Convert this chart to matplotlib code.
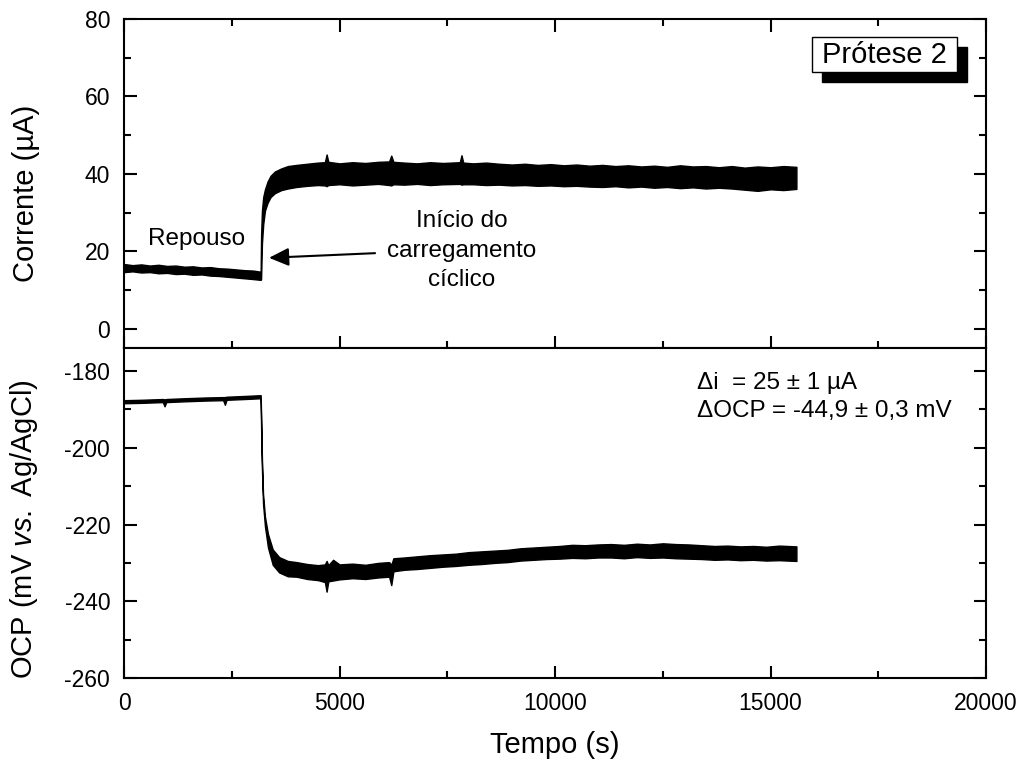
import numpy as np
import matplotlib
matplotlib.use('Agg')
from matplotlib import pyplot as plt
from matplotlib.patches import Rectangle
from matplotlib.ticker import MultipleLocator

plt.rcParams['font.family'] = ['Liberation Sans', 'DejaVu Sans']
plt.rcParams['mathtext.fontset'] = 'custom'
plt.rcParams['mathtext.rm'] = 'Liberation Sans'
plt.rcParams['mathtext.it'] = 'Liberation Sans:italic'
plt.rcParams['axes.unicode_minus'] = False

# current (uA): upper / lower edge of the noisy band
rest_t = [0, 200, 400, 600, 800, 1000, 1200, 1400, 1600, 1800, 2000, 2200, 2400, 2600, 2800, 3000, 3170]
rest_hi = [16.7, 16.4, 16.6, 16.3, 16.5, 16.2, 16.3, 16.0, 16.1, 15.8, 15.9, 15.6, 15.5, 15.3, 15.1, 15.0, 14.7]
rest_lo = [14.6, 14.8, 14.5, 14.6, 14.3, 14.4, 14.1, 14.2, 13.9, 14.0, 13.7, 13.6, 13.4, 13.2, 13.0, 12.8, 12.6]

rise_t = [3180, 3200, 3230, 3270, 3330, 3400, 3500, 3650, 3800]
rise_hi = [24.0, 30.5, 34.0, 36.0, 38.0, 39.5, 40.6, 41.4, 42.0]
rise_lo = [12.8, 22.0, 27.0, 30.5, 32.5, 34.0, 35.0, 35.8, 36.2]

load_t = [4000, 4250, 4500, 4660, 4700, 4740, 5000, 5300, 5600, 5900,
          6150, 6200, 6250, 6500, 6800, 7100, 7400, 7790, 7830, 7870,
          8100, 8400, 8700, 9000, 9300, 9600, 9900, 10200, 10500, 10800,
          11100, 11400, 11700, 12000, 12300, 12600, 12900, 13200, 13500, 13800,
          14100, 14400, 14700, 15000, 15300, 15600]
load_hi = [42.3, 42.6, 42.9, 43.0, 45.0, 43.1, 42.7, 43.0, 42.8, 43.1,
           43.2, 44.7, 43.1, 42.9, 42.7, 43.0, 42.8, 43.0, 44.8, 42.9,
           42.7, 42.9, 42.6, 42.4, 42.6, 42.3, 42.5, 42.2, 42.4, 42.1,
           42.3, 42.0, 42.2, 41.9, 42.1, 41.8, 42.2, 41.9, 42.0, 41.7,
           42.0, 41.6, 41.9, 41.7, 42.0, 41.8]
load_lo = [36.6, 36.9, 37.1, 37.0, 36.8, 37.1, 37.3, 37.0, 37.2, 37.4,
           37.1, 37.0, 37.3, 37.2, 37.4, 37.1, 37.3, 37.4, 37.2, 37.3,
           37.3, 37.1, 37.2, 37.0, 37.1, 36.9, 37.0, 36.8, 36.9, 36.7,
           36.6, 36.8, 36.5, 36.7, 36.4, 36.6, 36.3, 36.5, 36.2, 36.4,
           36.2, 35.9, 35.6, 36.0, 35.8, 36.1]

# OCP (mV vs Ag/AgCl)
ocp_rest_t = [0, 400, 900, 940, 980, 1400, 1900, 2300, 2340, 2380, 2800, 3170]
ocp_rest_hi = [-187.6, -187.5, -187.3, -187.4, -187.3, -187.1, -186.9, -186.8, -186.8, -186.7, -186.5, -186.3]
ocp_rest_lo = [-188.4, -188.3, -188.1, -189.2, -188.1, -187.9, -187.7, -187.6, -188.8, -187.5, -187.3, -187.1]

ocp_drop_t = [3185, 3200, 3225, 3270, 3340, 3450, 3600, 3800]
ocp_drop_hi = [-194.0, -203.0, -212.0, -218.0, -222.5, -226.5, -228.5, -229.5]
ocp_drop_lo = [-198.0, -205.5, -214.5, -220.5, -226.0, -230.5, -232.5, -233.5]

ocp_load_t = [4000, 4250, 4500, 4660, 4700, 4740, 4850, 5000, 5300, 5600,
              5900, 6150, 6200, 6250, 6500, 6800, 7100, 7400, 7700, 8000,
              8300, 8600, 8900, 9200, 9500, 9800, 10100, 10400, 10700, 11000,
              11300, 11600, 11900, 12200, 12500, 12800, 13100, 13400, 13700, 14000,
              14300, 14600, 14900, 15200, 15600]
ocp_load_hi = [-229.8, -230.3, -230.6, -230.4, -229.5, -230.6, -229.2, -230.4, -230.2, -230.5,
               -230.0, -229.8, -230.5, -228.8, -228.6, -228.3, -228.0, -227.8, -227.6, -227.2,
               -227.0, -226.8, -226.6, -226.2, -226.0, -225.8, -225.6, -225.3, -225.4, -225.2,
               -225.1, -225.3, -225.0, -225.2, -224.9, -225.1, -225.2, -225.4, -225.6, -225.5,
               -225.7, -225.6, -225.8, -225.5, -225.7]
ocp_load_lo = [-233.6, -234.2, -234.5, -235.0, -237.5, -234.8, -234.6, -234.3, -234.0, -234.2,
               -233.8, -233.6, -235.8, -232.2, -231.8, -231.6, -231.3, -231.0, -230.8, -230.5,
               -230.3, -230.0, -229.8, -229.4, -229.2, -229.0, -228.9, -228.7, -228.8, -228.6,
               -228.6, -228.8, -228.5, -228.7, -228.6, -228.8, -228.9, -229.0, -229.2, -229.1,
               -229.3, -229.2, -229.4, -229.3, -229.5]

cur_t = np.array(rest_t + rise_t + load_t)
cur_hi = np.array(rest_hi + rise_hi + load_hi)
cur_lo = np.array(rest_lo + rise_lo + load_lo)
ocp_t = np.array(ocp_rest_t + ocp_drop_t + ocp_load_t)
ocp_hi = np.array(ocp_rest_hi + ocp_drop_hi + ocp_load_hi)
ocp_lo = np.array(ocp_rest_lo + ocp_drop_lo + ocp_load_lo)

fig = plt.figure(figsize=(10.25, 7.66), dpi=100)
ax1 = fig.add_axes([0.121, 0.5457, 0.841, 0.4295])
ax2 = fig.add_axes([0.121, 0.1149, 0.841, 0.4308])

ax1.fill_between(cur_t, cur_lo, cur_hi, color='k', lw=1.0)
ax2.fill_between(ocp_t, ocp_lo, ocp_hi, color='k', lw=1.0)

for ax in (ax1, ax2):
    ax.set_xlim(0, 20000)
    ax.xaxis.set_major_locator(MultipleLocator(5000))
    ax.xaxis.set_minor_locator(MultipleLocator(2500))
    ax.yaxis.set_major_locator(MultipleLocator(20))
    ax.yaxis.set_minor_locator(MultipleLocator(10))
    ax.tick_params(which='both', direction='in', width=1.5, labelsize=16.5, pad=10, right=True)
    ax.tick_params(which='major', length=9)
    ax.tick_params(which='minor', length=5)
    for s in ax.spines.values():
        s.set_linewidth(1.5)

ax1.set_ylim(-5, 80)
ax1.tick_params(which='both', top=True, labelbottom=False)
ax2.set_ylim(-260, -174)
ax2.tick_params(which='both', top=False)

ax1.set_ylabel('Corrente (µA)', fontsize=21)
ax1.yaxis.set_label_coords(-0.0975, 0.47)
ax2.set_ylabel('OCP (mV $\\mathit{vs.}$ Ag/AgCl)', fontsize=21)
ax2.yaxis.set_label_coords(-0.0975, 0.45)
ax2.set_xlabel('Tempo (s)', fontsize=21)
ax2.xaxis.set_label_coords(0.5, -0.16)

ax1.text(1694, 21.7, 'Repouso', fontsize=17.5, ha='center', va='baseline')
ax1.text(7840, 20.1, 'Início do\ncarregamento\ncíclico', fontsize=17.5,
         ha='center', va='center', multialignment='center', linespacing=1.45)
ax1.annotate('', xy=(3364, 18.3), xytext=(5824, 19.5),
             arrowprops=dict(arrowstyle='-|>,head_length=1.2,head_width=0.55',
                             mutation_scale=10, color='k', lw=1.5, shrinkA=0, shrinkB=0))

# "Prótese 2" label with drop shadow
ax1.add_patch(Rectangle((0.810, 0.809), 0.168, 0.106, transform=ax1.transAxes,
                        facecolor='k', edgecolor='k', zorder=5, clip_on=False))
ax1.add_patch(Rectangle((0.798, 0.839), 0.168, 0.106, transform=ax1.transAxes,
                        facecolor='w', edgecolor='k', lw=1.0, zorder=6, clip_on=False))
ax1.text(0.882, 0.891, 'Prótese 2', transform=ax1.transAxes, fontsize=21,
         ha='center', va='center', zorder=7)

ax2.text(13300, -184.7, 'Δi  = 25 ± 1 µA', fontsize=17.5, va='baseline')
ax2.text(13300, -192.0, 'ΔOCP = -44,9 ± 0,3 mV', fontsize=17.5, va='baseline')

fig.savefig('out.png', dpi=100)
